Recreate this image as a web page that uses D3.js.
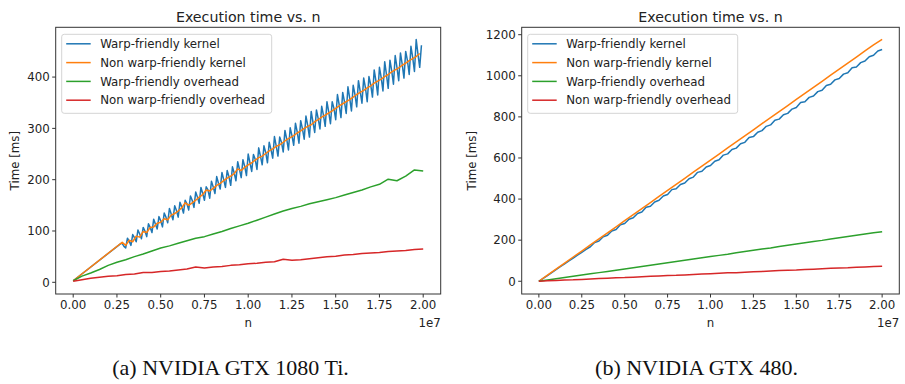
<!DOCTYPE html>
<html lang="en">
<head>
<meta charset="UTF-8">
<title>Execution time vs. n</title>
<script src="https://d3js.org/d3.v7.min.js"></script>
<style>
    body { margin: 0; background: #fff; }
    svg text { font-family: "DejaVu Sans", sans-serif; fill: #222; }
    svg text.caption { font-family: "Liberation Serif", serif; fill: #111; }
</style>
</head>
<body>
<svg width="905" height="384"></svg>
<script>
    const seriesNames = ["Warp-friendly kernel", "Non warp-friendly kernel", "Warp-friendly overhead", "Non warp-friendly overhead"];
    const colors = ["#1f77b4", "#ff7f0e", "#2ca02c", "#d62728"];
    const xTicks = [0, 2.5e6, 5e6, 7.5e6, 1e7, 1.25e7, 1.5e7, 1.75e7, 2e7];
    const tiYTicks = [0, 100, 200, 300, 400];
    const gtxYTicks = [0, 200, 400, 600, 800, 1000, 1200];
    const captions = ["(a) NVIDIA GTX 1080 Ti.", "(b) NVIDIA GTX 480."];

    // GTX 1080 Ti, times in ms; null = no sample at that n
    const tiWarpKernelStep = 1e5;
    const tiWarpKernel = [3,
        null, null, null, null, null, null, null, null, null, null, null, null, null,
        null, null, null, null, null, null, null, null, null, null, null, null, null,
        75, 76, 70,
        67, 86, 80, 72, 93, 87, 79, 102, 94, 85,
        107, 100, 89, 114, 107, 97, 123, 113, 104, 128,
        120, 108, 135, 127, 116, 144, 133, 122, 149, 140,
        127, 156, 147, 135, 160, 153, 141, 168, 160, 146,
        176, 166, 154, 185, 173, 160, 186, 180, 164, 197,
        186, 173, 206, 193, 182, 214, 200, 185, 218, 206,
        189, 225, 213, 198, 235, 220, 204, 239, 226, 208,
        250, 233, 216, 249, 240, 220, 262, 246, 229, 266,
        253, 233, 273, 259, 242, 284, 266, 246, 283, 273,
        254, 296, 279, 258, 301, 286, 267, 310, 293, 271,
        315, 299, 279, 324, 306, 283, 333, 312, 292, 336,
        319, 299, 343, 326, 304, 352, 332, 309, 352, 339,
        317, 366, 346, 321, 370, 352, 329, 381, 359, 334,
        384, 366, 342, 393, 372, 349, 398, 379, 352, 401,
        385, 361, 414, 392, 365, 419, 399, 373, 430, 405,
        378, 433, 412, 386, 442, 419, 393, 447, 425, 398,
        450, 432, 405, 460, 438, 411, 473, 445, 419, 462];

    const tiNonWarpKernelStep = 2e5;
    const tiNonWarpKernel = [3,
        null, null, null, null, null, null, null, null, null, null, null, null, null,
        78, 72, 82, 79, 90, 88,
        99, 97, 107, 108, 115, 117, 124, 122, 131, 134,
        139, 145, 155, 150, 155, 160, 166, 171, 180, 178,
        183, 189, 193, 198, 203, 207, 212, 221, 218, 224,
        229, 233, 238, 243, 246, 251, 256, 260, 265, 268,
        273, 278, 282, 286, 291, 295, 300, 304, 307, 313,
        317, 322, 326, 330, 334, 339, 344, 348, 352, 356,
        361, 366, 370, 374, 379, 383, 388, 392, 396, 401,
        405, 410, 414, 418, 423, 427, 432, 436, 440, 446];

    const overheadStep = 5e5;
    const tiWarpOverhead = [3, 12, 18, 25, 33, 39, 44, 50, 55, 61,
        67, 71, 76, 81, 86, 89, 94, 99, 105, 110,
        115, 121, 127, 133, 139, 144, 148, 153, 157, 161,
        165, 170, 175, 180, 186, 191, 201, 198, 207, 219, 217];
    const tiNonWarpOverhead = [2, 5, 8, 10, 12, 13, 15, 16, 19, 19,
        21, 22, 24, 26, 30, 28, 30, 31, 33, 34,
        36, 37, 39, 40, 45, 43, 44, 46, 48, 50,
        51, 53, 54, 56, 57, 58, 60, 61, 62, 64, 65];

    // GTX 480
    const gtxWarpKernelStep = 2.5e5;
    const gtxWarpKernel = [0, 14, 28, 42, 57, 71, 85, 99, 113, 127,
        141, 155, 168, 189, 196, 217, 224, 245, 252, 275,
        281, 302, 309, 330, 337, 360, 365, 386, 394, 415,
        422, 446, 450, 471, 478, 499, 507, 530, 535, 556,
        563, 584, 591, 614, 620, 641, 648, 669, 676, 700,
        704, 725, 733, 754, 761, 784, 789, 810, 817, 838,
        846, 870, 874, 895, 902, 923, 930, 953, 959, 980,
        987, 1008, 1015, 1039, 1043, 1064, 1072, 1093, 1100, 1121, 1128];
    const gtxNonWarpKernel = [0, 30, 59, 88, 118, 147, 177, 206, 236, 265,
        295, 324, 354, 383, 413, 442, 472, 501, 531, 560,
        590, 619, 649, 678, 708, 737, 767, 796, 826, 855,
        885, 914, 944, 973, 1003, 1032, 1062, 1091, 1121, 1150, 1177];
    const gtxWarpOverhead = [0, 6, 12, 18, 24, 30, 36, 42, 48, 54,
        60, 66, 72, 78, 84, 90, 96, 102, 108, 114,
        120, 126, 132, 139, 145, 151, 157, 162, 169, 175,
        181, 187, 193, 199, 206, 212, 218, 224, 230, 236, 241];
    const gtxNonWarpOverhead = [0, 2, 4, 6, 7, 9, 11, 13, 15, 17,
        18, 20, 22, 24, 26, 28, 29, 31, 33, 35,
        37, 39, 41, 42, 44, 46, 48, 50, 52, 54,
        55, 57, 59, 61, 63, 65, 66, 68, 70, 72, 73];

    const svg = d3.select("svg");

    function toPoints(values, step) {
        return values.map((t, i) => ({n: i * step, t})).filter(d => d.t !== null);
    }

    function panel(opt) {
        const x = d3.scaleLinear().domain([-1e6, 2.1e7]).range([opt.left, opt.right]);
        const y = d3.scaleLinear().domain(opt.yDomain).range([opt.bottom, opt.top]);
        const g = svg.append("g");
        const cx = (opt.left + opt.right) / 2;

        const line = d3.line().x(d => x(d.n)).y(d => y(d.t));
        opt.series.forEach((s, i) => {
            g.append("path")
                .datum(toPoints(s.values, s.step))
                .attr("d", line)
                .attr("fill", "none")
                .attr("stroke", colors[i])
                .attr("stroke-width", 1.5)
                .attr("stroke-linejoin", "round");
        });

        // frame
        g.append("rect")
            .attr("x", opt.left).attr("y", opt.top)
            .attr("width", opt.right - opt.left).attr("height", opt.bottom - opt.top)
            .attr("fill", "none").attr("stroke", "#333").attr("stroke-width", 1);

        // x ticks
        xTicks.forEach(v => {
            g.append("line")
                .attr("x1", x(v)).attr("x2", x(v))
                .attr("y1", opt.bottom).attr("y2", opt.bottom + 3.5)
                .attr("stroke", "#333");
            g.append("text")
                .attr("x", x(v)).attr("y", opt.bottom + 15)
                .attr("text-anchor", "middle")
                .style("font-size", "11.8px")
                .text((v / 1e7).toFixed(2));
        });
        // y ticks
        opt.yTicks.forEach(v => {
            g.append("line")
                .attr("x1", opt.left - 3.5).attr("x2", opt.left)
                .attr("y1", y(v)).attr("y2", y(v))
                .attr("stroke", "#333");
            g.append("text")
                .attr("x", opt.left - 6).attr("y", y(v))
                .attr("dy", "0.36em")
                .attr("text-anchor", "end")
                .style("font-size", "11.8px")
                .text(v);
        });

        g.append("text")
            .attr("x", cx).attr("y", 22)
            .attr("text-anchor", "middle")
            .style("font-size", "14.2px")
            .text("Execution time vs. n");
        g.append("text")
            .attr("x", cx).attr("y", 326.5)
            .attr("text-anchor", "middle")
            .style("font-size", "11.8px")
            .text("n");
        g.append("text")
            .attr("x", opt.right).attr("y", 326.5)
            .attr("text-anchor", "end")
            .style("font-size", "11.8px")
            .text("1e7");
        g.append("text")
            .attr("transform", `translate(${opt.yLabelX},${(opt.top + opt.bottom) / 2}) rotate(-90)`)
            .attr("text-anchor", "middle")
            .style("font-size", "11.8px")
            .text("Time [ms]");

        // legend
        const lx = opt.left + 6;
        const lg = g.append("g");
        lg.append("rect")
            .attr("x", lx).attr("y", opt.top + 7)
            .attr("width", 210).attr("height", 79)
            .attr("rx", 2.5)
            .attr("fill", "#fff").attr("fill-opacity", 0.8)
            .attr("stroke", "#d4d4d4");
        seriesNames.forEach((name, i) => {
            const ly = opt.top + 16.5 + i * 18.8;
            lg.append("line")
                .attr("x1", lx + 4.5).attr("x2", lx + 29)
                .attr("y1", ly).attr("y2", ly)
                .attr("stroke", colors[i]).attr("stroke-width", 1.5);
            lg.append("text")
                .attr("x", lx + 38.5).attr("y", ly)
                .attr("dy", "0.36em")
                .style("font-size", "11.8px")
                .text(name);
        });

        svg.append("text")
            .attr("class", "caption")
            .attr("x", opt.captionX).attr("y", 375)
            .attr("text-anchor", "middle")
            .style("font-size", "22px")
            .text(opt.caption);
    }

    panel({
        left: 55.7, right: 440.7, top: 27.3, bottom: 294,
        yDomain: [-22.8, 497], yTicks: tiYTicks, yLabelX: 18.5,
        caption: captions[0], captionX: 230.5,
        series: [
            {values: tiWarpKernel, step: tiWarpKernelStep},
            {values: tiNonWarpKernel, step: tiNonWarpKernelStep},
            {values: tiWarpOverhead, step: overheadStep},
            {values: tiNonWarpOverhead, step: overheadStep}
        ]
    });

    panel({
        left: 521.7, right: 899.3, top: 27.3, bottom: 294,
        yDomain: [-62, 1236], yTicks: gtxYTicks, yLabelX: 476,
        caption: captions[1], captionX: 696.5,
        series: [
            {values: gtxWarpKernel, step: gtxWarpKernelStep},
            {values: gtxNonWarpKernel, step: overheadStep},
            {values: gtxWarpOverhead, step: overheadStep},
            {values: gtxNonWarpOverhead, step: overheadStep}
        ]
    });
</script>
</body>
</html>
